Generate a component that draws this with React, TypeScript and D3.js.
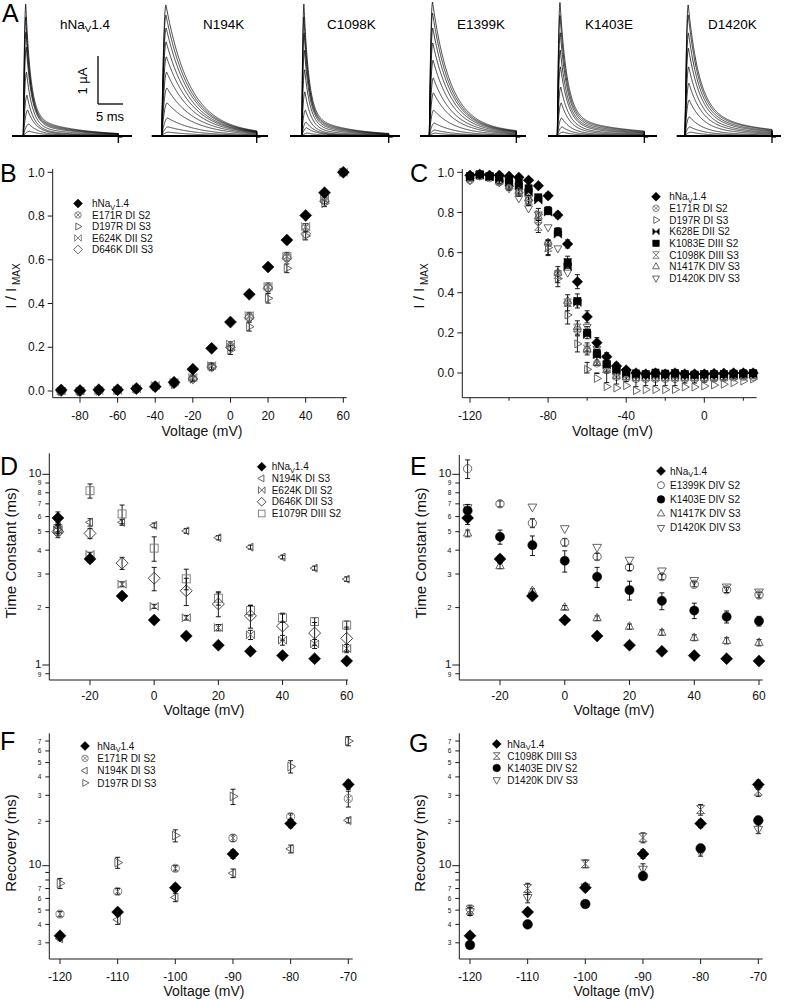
import React from 'react';
import * as d3 from 'd3';

const FONT = '"Liberation Sans", Arial, Helvetica, sans-serif';
const AX = '#1a1a1a';

// ---------------- Panel A: current traces (peak µA, decay tau ms, time-to-peak ms) ----------------
const traceNames = ['hNaV1.4', 'N194K', 'C1098K', 'E1399K', 'K1403E', 'D1420K'];
const pulseMs = [19, 19, 17.4, 17.4, 17.4, 17.4];
const slowFrac = [0.15, 0.1, 0.16, 0.1, 0.15, 0.2];
const slowTau = [9, 12, 8, 15, 12, 12];
const peakWT = [2.75, 2.48, 2.17, 1.85, 1.33, 0.85, 0.54, 0.25, 0.1];
const decayWT = [1.0, 1.0, 1.05, 1.1, 1.2, 1.35, 1.6, 2.0, 2.5];
const riseWT = [0.5, 0.5, 0.55, 0.6, 0.65, 0.75, 0.9, 1.1, 1.3];
const peakN194K = [2.73, 2.52, 2.25, 1.96, 1.65, 1.33, 1.0, 0.69, 0.375, 0.19, 0.08];
const decayN194K = [4.6, 4.6, 4.7, 4.8, 5.0, 5.2, 5.4, 5.6, 5.8, 6.0, 6.0];
const riseN194K = [0.85, 0.85, 0.9, 0.9, 0.95, 1.0, 1.05, 1.1, 1.2, 1.3, 1.4];
const peakC1098K = [2.75, 2.48, 2.15, 1.79, 1.38, 0.92, 0.54, 0.29, 0.17, 0.06];
const decayC1098K = [1.0, 1.0, 1.05, 1.1, 1.15, 1.25, 1.4, 1.7, 2.0, 2.5];
const riseC1098K = [0.45, 0.45, 0.5, 0.55, 0.6, 0.65, 0.75, 0.9, 1.0, 1.2];
const peakE1399K = [2.79, 2.56, 2.25, 1.94, 1.58, 1.21, 0.9, 0.54, 0.27, 0.125, 0.06];
const decayE1399K = [3.5, 3.5, 3.6, 3.7, 3.8, 3.9, 4.0, 4.2, 4.4, 4.5, 4.5];
const riseE1399K = [0.65, 0.65, 0.7, 0.7, 0.75, 0.8, 0.85, 0.9, 1.0, 1.1, 1.2];
const peakK1403E = [2.79, 2.52, 2.15, 1.79, 1.44, 1.02, 0.69, 0.375, 0.19, 0.08];
const decayK1403E = [1.4, 1.4, 1.45, 1.5, 1.6, 1.7, 1.8, 2.0, 2.2, 2.4];
const riseK1403E = [0.55, 0.55, 0.6, 0.6, 0.65, 0.7, 0.8, 0.9, 1.0, 1.2];
const peakD1420K = [2.73, 2.52, 2.15, 1.83, 1.44, 1.1, 0.75, 0.4, 0.19, 0.08];
const decayD1420K = [2.2, 2.2, 2.3, 2.4, 2.5, 2.6, 2.7, 2.8, 3.0, 3.0];
const riseD1420K = [0.65, 0.65, 0.7, 0.7, 0.75, 0.8, 0.85, 0.9, 1.0, 1.2];

// ---------------- Panel B: activation ----------------
const vB = [-90, -80, -70, -60, -50, -40, -30, -20, -10, 0, 10, 20, 30, 40, 50, 60];
const bWT = [0.005, 0.002, 0.006, 0.006, 0.012, 0.02, 0.04, 0.1, 0.195, 0.315, 0.442, 0.567, 0.69, 0.803, 0.907, 1.0];
const bE171R = [0, 0, 0.002, 0.004, 0.01, 0.025, 0.036, 0.058, 0.113, 0.205, 0.34, 0.474, 0.614, 0.748, 0.873, 1.0];
const bD197R = [-0.002, -0.003, 0, 0.002, 0.008, 0.02, 0.03, 0.055, 0.11, 0.187, 0.294, 0.424, 0.561, 0.709, 0.858, 1.0];
const bE624K = [0, 0, 0.002, 0.003, 0.01, 0.025, 0.04, 0.062, 0.116, 0.215, 0.345, 0.478, 0.617, 0.752, 0.878, 1.0];
const bD646K = [-0.003, -0.002, 0, 0.002, 0.008, 0.022, 0.033, 0.055, 0.11, 0.2, 0.335, 0.47, 0.607, 0.718, 0.868, 1.0];
const bErrE171R = [0.004, 0.004, 0.004, 0.004, 0.005, 0.008, 0.01, 0.012, 0.015, 0.02, 0.02, 0.02, 0.02, 0.018, 0.015, 0];
const bErrD197R = [0.004, 0.004, 0.004, 0.004, 0.005, 0.008, 0.01, 0.012, 0.015, 0.02, 0.02, 0.022, 0.02, 0.018, 0.015, 0];

// ---------------- Panel C: steady-state inactivation ----------------
const vC = [-120, -115, -110, -105, -100, -95, -90, -85, -80, -75, -70, -65, -60, -55, -50, -45, -40, -35, -30, -25, -20, -15, -10, -5, 0, 5, 10, 15, 20, 25];
const cWT = [0.985, 0.99, 0.985, 0.985, 0.98, 0.975, 0.96, 0.933, 0.883, 0.787, 0.643, 0.455, 0.28, 0.151, 0.081, 0.035, 0.015, 0.0, -0.005, 0.0, -0.005, 0.0, -0.005, -0.005, -0.005, -0.003, -0.002, 0.0, 0.0, 0.0];
const cK1083E = [0.98, 0.99, 0.98, 0.975, 0.96, 0.945, 0.92, 0.875, 0.809, 0.704, 0.552, 0.359, 0.201, 0.098, 0.045, 0.02, 0.005, -0.002, -0.005, 0.002, -0.003, 0.0, -0.005, -0.008, -0.005, -0.005, -0.004, -0.003, -0.002, 0.0];
const cK628E = [0.975, 0.985, 0.975, 0.965, 0.95, 0.93, 0.9, 0.86, 0.8, 0.69, 0.53, 0.35, 0.19, 0.09, 0.04, 0.01, -0.005, -0.01, -0.012, -0.01, -0.012, -0.01, -0.012, -0.012, -0.012, -0.01, -0.01, -0.008, -0.006, -0.005];
const cE171R = [0.96, 0.98, 0.97, 0.95, 0.93, 0.9, 0.86, 0.756, 0.646, 0.497, 0.347, 0.214, 0.115, 0.047, 0.015, -0.02, -0.025, -0.03, -0.03, -0.03, -0.03, -0.03, -0.03, -0.03, -0.03, -0.028, -0.025, -0.022, -0.02, -0.02];
const cD197R = [0.97, 0.985, 0.975, 0.955, 0.93, 0.9, 0.86, 0.79, 0.625, 0.47, 0.289, 0.145, 0.018, -0.027, -0.068, -0.075, -0.063, -0.088, -0.083, -0.083, -0.083, -0.083, -0.07, -0.07, -0.065, -0.06, -0.056, -0.048, -0.04, -0.03];
const cC1098K = [0.975, 0.985, 0.98, 0.96, 0.935, 0.905, 0.86, 0.73, 0.625, 0.49, 0.35, 0.225, 0.12, 0.06, 0.02, -0.01, -0.015, -0.02, -0.02, -0.02, -0.02, -0.02, -0.02, -0.02, -0.02, -0.02, -0.02, -0.015, -0.012, -0.01];
const cN1417K = [0.97, 0.985, 0.975, 0.955, 0.93, 0.905, 0.87, 0.78, 0.65, 0.5, 0.36, 0.23, 0.12, 0.05, 0.015, -0.015, -0.02, -0.025, -0.025, -0.025, -0.025, -0.025, -0.025, -0.025, -0.025, -0.022, -0.02, -0.018, -0.015, -0.012];
const cD1420K = [0.96, 0.99, 0.98, 0.95, 0.92, 0.87, 0.82, 0.79, 0.726, 0.621, 0.5, 0.35, 0.23, 0.12, 0.075, 0.025, 0.0, -0.01, -0.01, -0.01, -0.01, -0.01, -0.01, -0.01, -0.01, -0.01, -0.01, -0.01, -0.01, -0.005];
const cErrWT = [0.01, 0.01, 0.01, 0.01, 0.01, 0.01, 0.01, 0.01, 0.015, 0.015, 0.02, 0.035, 0.03, 0.025, 0.02, 0.015, 0.01, 0.01, 0.01, 0.01, 0.01, 0.01, 0.01, 0.01, 0.01, 0.01, 0.01, 0.01, 0.01, 0.01];
const cErrD197R = [0.01, 0.01, 0.01, 0.015, 0.02, 0.02, 0.02, 0.03, 0.04, 0.04, 0.045, 0.04, 0.035, 0.025, 0.02, 0.02, 0.02, 0.02, 0.02, 0.02, 0.02, 0.02, 0.02, 0.02, 0.02, 0.02, 0.02, 0.02, 0.015, 0.015];
const cErrK1083E = [0.01, 0.01, 0.01, 0.01, 0.01, 0.01, 0.015, 0.015, 0.02, 0.02, 0.03, 0.035, 0.03, 0.02, 0.015, 0.01, 0.01, 0.01, 0.01, 0.01, 0.01, 0.01, 0.01, 0.01, 0.01, 0.01, 0.01, 0.01, 0.01, 0.01];
const cErrC1098K = [0.01, 0.01, 0.01, 0.015, 0.02, 0.02, 0.025, 0.03, 0.035, 0.04, 0.04, 0.035, 0.03, 0.02, 0.015, 0.015, 0.015, 0.015, 0.015, 0.015, 0.015, 0.015, 0.015, 0.015, 0.015, 0.015, 0.015, 0.015, 0.015, 0.015];

// ---------------- Panels D / E: inactivation time constants (ms) ----------------
const vTau = [-30, -20, -10, 0, 10, 20, 30, 40, 50, 60];
const tauWT = [5.9, 3.6, 2.3, 1.72, 1.42, 1.27, 1.18, 1.12, 1.08, 1.05];
const tauErrWT = [0.45, 0.15, 0.08, 0.04, 0.03, 0.02, 0.02, 0.02, 0.02, 0.02];
const tauN194K = [5.3, 5.6, 5.6, 5.4, 5.05, 4.65, 4.15, 3.68, 3.22, 2.82];
const tauErrN194K = [0.3, 0.25, 0.2, 0.15, 0.15, 0.12, 0.1, 0.08, 0.08, 0.08];
const tauE624K = [5.1, 3.8, 2.65, 2.03, 1.77, 1.57, 1.44, 1.35, 1.29, 1.22];
const tauErrE624K = [0.3, 0.1, 0.08, 0.05, 0.05, 0.06, 0.08, 0.08, 0.07, 0.06];
const tauD646K = [5.0, 4.9, 3.42, 2.85, 2.45, 2.09, 1.81, 1.6, 1.47, 1.38];
const tauErrD646K = [0.35, 0.3, 0.25, 0.4, 0.4, 0.3, 0.25, 0.25, 0.2, 0.2];
const tauE1079R = [5.2, 8.2, 6.2, 4.1, 2.83, 2.24, 1.93, 1.77, 1.69, 1.62];
const tauErrE1079R = [0.3, 0.7, 0.7, 0.6, 0.35, 0.18, 0.12, 0.1, 0.08, 0.08];
const tauE1399K = [10.7, 7.0, 5.55, 4.4, 3.7, 3.25, 2.9, 2.65, 2.48, 2.33];
const tauErrE1399K = [1.2, 0.25, 0.3, 0.2, 0.15, 0.12, 0.1, 0.08, 0.08, 0.08];
const tauK1403E = [6.45, 4.7, 4.25, 3.52, 2.9, 2.47, 2.17, 1.93, 1.79, 1.7];
const tauErrK1403E = [0.5, 0.4, 0.5, 0.45, 0.35, 0.28, 0.22, 0.18, 0.13, 0.1];
const tauN1417K = [4.9, 3.3, 2.45, 2.0, 1.76, 1.59, 1.48, 1.39, 1.34, 1.31];
const tauErrN1417K = [0.2, 0.1, 0.06, 0.05, 0.05, 0.05, 0.05, 0.05, 0.05, 0.05];
const tauD1420K = [6.7, null, 6.75, 5.2, 4.15, 3.55, 3.12, 2.78, 2.57, 2.42];
const tauTicks = [0.9, 1, 2, 3, 4, 5, 6, 7, 8, 9, 10];
const tauTickLabels = ['9', '1', '2', '3', '4', '5', '6', '7', '8', '9', '10'];

// ---------------- Panels F / G: recovery from inactivation (ms) ----------------
const vRec = [-120, -110, -100, -90, -80, -70];
const recWT = [3.35, 4.85, 7.1, 12.0, 19.3, 35.5];
const recErrWT = [0.15, 0.25, 0.4, 0.8, 1.2, 2.5];
const recE171R = [4.7, 6.7, 9.6, 15.4, 21.5, 28.5];
const recErrE171R = [0.2, 0.3, 0.4, 0.8, 1.0, 3.5];
const recN194K = [3.2, 4.3, 6.1, 8.9, 13.0, 20.3];
const recErrN194K = [0.1, 0.3, 0.4, 0.6, 0.8, 0.8];
const recD197R = [7.6, 10.5, 16.0, 29.5, 47.0, 70.0];
const recErrD197R = [0.6, 0.9, 1.5, 3.5, 4.5, 5.0];
const recC1098K = [5.0, 7.0, 10.3, 15.5, 24.0, 32.0];
const recErrC1098K = [0.4, 0.6, 0.6, 1.2, 2.0, 2.5];
const recK1403E = [2.9, 4.0, 5.5, 8.5, 13.1, 20.3];
const recErrK1403E = [0.1, 0.15, 0.2, 0.3, 0.5, 0.7];
const recD1420K = [4.9, 6.1, 7.2, 9.5, 12.4, 17.7];
const recErrD1420K = [0.3, 0.5, 0.4, 0.8, 0.8, 1.2];
const recTicks = [3, 4, 5, 6, 7, 8, 9, 10, 20, 30, 40, 50, 60, 70];
const recTickLabels = ['3', '4', '5', '6', '7', '', '', '10', '2', '3', '4', '5', '6', '7'];

const ivTicks = [0, 0.2, 0.4, 0.6, 0.8, 1.0];

type Kind = 'diamondF' | 'diamond' | 'circle' | 'circleF' | 'circleX' | 'triUp' | 'triDown' | 'triLeft' | 'triRight' | 'square' | 'squareF' | 'bowtie' | 'bowtieF' | 'hourglass';

function marker(kind: Kind, x: number, y: number, r: number, color: string, key: string) {
  const sw = 0.9;
  const open = { fill: 'none', stroke: color, strokeWidth: sw };
  const filled = { fill: color, stroke: color, strokeWidth: 0.5 };
  const t = r * 1.2;
  switch (kind) {
    case 'diamondF':
      return <path key={key} d={`M${x},${y - r}L${x + r},${y}L${x},${y + r}L${x - r},${y}Z`} {...filled} />;
    case 'diamond':
      return <path key={key} d={`M${x},${y - r * 1.15}L${x + r * 1.15},${y}L${x},${y + r * 1.15}L${x - r * 1.15},${y}Z`} {...open} />;
    case 'circle':
      return <circle key={key} cx={x} cy={y} r={r * 0.92} {...open} />;
    case 'circleF':
      return <circle key={key} cx={x} cy={y} r={r} {...filled} />;
    case 'circleX': {
      const q = r * 0.62;
      return (
        <g key={key} {...open}>
          <circle cx={x} cy={y} r={r * 0.9} />
          <path d={`M${x - q},${y - q}L${x + q},${y + q}M${x - q},${y + q}L${x + q},${y - q}`} />
        </g>
      );
    }
    case 'triUp':
      return <path key={key} d={`M${x},${y - t}L${x + t * 0.87},${y + t * 0.55}L${x - t * 0.87},${y + t * 0.55}Z`} {...open} />;
    case 'triDown':
      return <path key={key} d={`M${x},${y + t}L${x + t * 0.87},${y - t * 0.55}L${x - t * 0.87},${y - t * 0.55}Z`} {...open} />;
    case 'triLeft':
      return <path key={key} d={`M${x - t},${y}L${x + t * 0.55},${y - t * 0.87}L${x + t * 0.55},${y + t * 0.87}Z`} {...open} />;
    case 'triRight':
      return <path key={key} d={`M${x + t},${y}L${x - t * 0.55},${y - t * 0.87}L${x - t * 0.55},${y + t * 0.87}Z`} {...open} />;
    case 'square':
      return <rect key={key} x={x - r * 0.95} y={y - r * 0.95} width={r * 1.9} height={r * 1.9} {...open} />;
    case 'squareF':
      return <rect key={key} x={x - r * 0.9} y={y - r * 0.9} width={r * 1.8} height={r * 1.8} {...filled} />;
    case 'bowtie':
      return <path key={key} d={`M${x - r},${y - r}L${x + r},${y + r}L${x + r},${y - r}L${x - r},${y + r}Z`} {...open} />;
    case 'bowtieF':
      return <path key={key} d={`M${x - r},${y - r}L${x + r},${y + r}L${x + r},${y - r}L${x - r},${y + r}Z`} {...filled} />;
    case 'hourglass':
      return <path key={key} d={`M${x - r},${y - r}L${x + r},${y - r}L${x - r},${y + r}L${x + r},${y + r}Z`} {...open} />;
  }
  return null;
}

type Scale = (v: number) => number;

function series(id: string, xs: number[], ys: (number | null)[], errs: number[] | null, xS: Scale, yS: Scale, kind: Kind, r: number, color: string) {
  return (
    <g key={id}>
      {errs &&
        xs.map((v, i) => {
          const y = ys[i];
          if (y == null || !errs[i]) return null;
          const cx = xS(v);
          const y1 = yS(y + errs[i]);
          const y2 = yS(Math.max(y - errs[i], 1e-6));
          return (
            <g key={`e${i}`} stroke="#000" strokeWidth={0.9}>
              <line x1={cx} x2={cx} y1={y1} y2={y2} />
              <line x1={cx - 2.5} x2={cx + 2.5} y1={y1} y2={y1} />
              <line x1={cx - 2.5} x2={cx + 2.5} y1={y2} y2={y2} />
            </g>
          );
        })}
      {xs.map((v, i) => {
        const y = ys[i];
        if (y == null) return null;
        return marker(kind, xS(v), yS(y), r, color, `m${i}`);
      })}
    </g>
  );
}

function labelWithSub(text: string, sub = 0.72) {
  if (text.startsWith('hNaV')) {
    return [
      <tspan key="a">hNa</tspan>,
      <tspan key="b" dy={2.5} fontSize={`${sub}em`}>V</tspan>,
      <tspan key="c" dy={-2.5}>{text.slice(4)}</tspan>,
    ];
  }
  return text;
}

type LegItem = { label: string; kind: Kind; color: string; r: number };

function legend(id: string, items: LegItem[], symX: number, textX: number, y0: number, dy: number) {
  return (
    <g key={id}>
      {items.map((it, i) => {
        const y = y0 + i * dy;
        return (
          <g key={i}>
            {marker(it.kind, symX, y, it.r, it.color, 's')}
            <text x={textX} y={y + 3.6} fontSize={10} fill="#111">
              {labelWithSub(it.label)}
            </text>
          </g>
        );
      })}
    </g>
  );
}

function xAxis(id: string, xS: Scale, y: number, x0: number, x1: number, ticks: number[], minor: number[], labelY: number) {
  return (
    <g key={id}>
      <line x1={x0} x2={x1} y1={y} y2={y} stroke={AX} strokeWidth={1} />
      {ticks.map((t) => (
        <g key={t}>
          <line x1={xS(t)} x2={xS(t)} y1={y} y2={y + 5} stroke={AX} />
          <text x={xS(t)} y={labelY} fontSize={12} textAnchor="middle" fill="#111">
            {String(t)}
          </text>
        </g>
      ))}
      {minor.map((t) => (
        <line key={`n${t}`} x1={xS(t)} x2={xS(t)} y1={y} y2={y + 3} stroke={AX} />
      ))}
    </g>
  );
}

function yAxisLinear(id: string, yS: Scale, x: number, top: number, bottom: number, ticks: number[]) {
  const f = d3.format('.1f');
  return (
    <g key={id}>
      <line x1={x} x2={x} y1={top} y2={bottom} stroke={AX} />
      {ticks.map((t) => (
        <g key={t}>
          <line x1={x - 5} x2={x} y1={yS(t)} y2={yS(t)} stroke={AX} />
          <text x={x - 8} y={yS(t) + 4.2} fontSize={12} textAnchor="end" fill="#111">
            {f(t)}
          </text>
        </g>
      ))}
    </g>
  );
}

function yAxisLog(id: string, yS: Scale, x: number, top: number, bottom: number, ticks: number[], labels: string[], midSize: number[]) {
  return (
    <g key={id}>
      <line x1={x} x2={x} y1={top} y2={bottom} stroke={AX} />
      {ticks.map((t, i) => {
        const lab = labels[i];
        const major = lab.length === 2 || t === 1;
        const fs = major ? 11.5 : midSize.includes(t) ? 7.5 : 6.5;
        const dyLab = major ? 2.5 : fs * 0.38;
        const extra = !major && t < 1 ? 0.6 : 0;
        return (
          <g key={t}>
            <line x1={x - (major ? 7 : 4)} x2={x} y1={yS(t)} y2={yS(t)} stroke={AX} />
            {lab && (
              <text x={x - 8} y={yS(t) + dyLab + extra} fontSize={fs} textAnchor="end" fill="#111">
                {lab}
              </text>
            )}
          </g>
        );
      })}
    </g>
  );
}

function yTitle(x: number, y: number, text: string) {
  return (
    <text transform={`translate(${x},${y}) rotate(-90)`} fontSize={15} textAnchor="middle" fill="#111">
      {text}
    </text>
  );
}

function imaxTitle(x: number, y: number) {
  return (
    <text transform={`translate(${x},${y}) rotate(-90)`} fontSize={15} textAnchor="middle" fill="#111">
      I / I<tspan dy={4} fontSize={10}> MAX</tspan>
    </text>
  );
}

function xTitle(x: number, y: number) {
  return (
    <text x={x} y={y} fontSize={14} textAnchor="middle" fill="#111">
      Voltage (mV)
    </text>
  );
}

function panelLetter(x: number, y: number, t: string) {
  return (
    <text x={x} y={y} fontSize={25} fill="#000">
      {t}
    </text>
  );
}

// ---------------- Panel A rendering ----------------
const traceSets = [
  { peaks: peakWT, decay: decayWT, rise: riseWT },
  { peaks: peakN194K, decay: decayN194K, rise: riseN194K },
  { peaks: peakC1098K, decay: decayC1098K, rise: riseC1098K },
  { peaks: peakE1399K, decay: decayE1399K, rise: riseE1399K },
  { peaks: peakK1403E, decay: decayK1403E, rise: riseK1403E },
  { peaks: peakD1420K, decay: decayD1420K, rise: riseD1420K },
];
const aLayout = [
  { onset: 23.3, base0: 12, base1: 132, labelX: 60 },
  { onset: 161.7, base0: 151.7, base1: 268, labelX: 203 },
  { onset: 301.7, base0: 290, base1: 400, labelX: 327 },
  { onset: 429.3, base0: 420, base1: 526, labelX: 457 },
  { onset: 557.3, base0: 548, base1: 657, labelX: 585 },
  { onset: 685, base0: 676.7, base1: 781, labelX: 708 },
];
const MS_PX = 5;
const BASE_Y = 136;
const UA_PX = 48;

function PanelA() {
  const yA = d3.scaleLinear().domain([0, 1]).range([BASE_Y, BASE_Y - UA_PX]);
  return (
    <g>
      {traceSets.map((set, p) => {
        const L = aLayout[p];
        const dur = pulseMs[p];
        const xA = d3.scaleLinear().domain([0, dur]).range([L.onset, L.onset + dur * MS_PX]);
        const ts = d3.range(0, dur + 1e-6, 0.04);
        const line = d3
          .line<[number, number]>()
          .x((d) => xA(d[0]))
          .y((d) => yA(d[1]));
        const s = slowFrac[p];
        const ts2 = slowTau[p];
        return (
          <g key={p}>
            <line x1={L.base0} x2={L.base1} y1={BASE_Y} y2={BASE_Y} stroke="#000" strokeWidth={2} />
            {set.peaks.map((A, k) => {
              const tau = set.decay[k];
              const tp = set.rise[k];
              const pts: [number, number][] = ts.map((t) => {
                let v: number;
                if (t < tp) {
                  const u = t / tp;
                  v = A * (1 - (1 - u) * (1 - u));
                } else {
                  const q = t - tp;
                  v = A * ((1 - s) * Math.exp(-q / tau) + s * Math.exp(-q / ts2));
                }
                return [t, v];
              });
              pts.push([dur, 0]);
              return <path key={k} d={line(pts) || ''} fill="none" stroke="#000" strokeWidth={0.75} />;
            })}
            <line x1={xA(dur)} x2={xA(dur)} y1={BASE_Y} y2={BASE_Y + 7} stroke="#000" strokeWidth={1.3} />
            <line x1={xA(dur)} x2={xA(dur) + 4} y1={BASE_Y + 1} y2={BASE_Y + 1} stroke="#000" strokeWidth={1.2} />
            <text x={L.labelX} y={29} fontSize={13.5} fill="#000">
              {labelWithSub(traceNames[p])}
            </text>
          </g>
        );
      })}
      {/* scale bar: 1 µA, 5 ms */}
      <line x1={98} x2={98} y1={104} y2={104 - UA_PX} stroke="#000" strokeWidth={1.3} />
      <line x1={98} x2={98 + 5 * MS_PX} y1={104} y2={104} stroke="#000" strokeWidth={1.3} />
      <text transform="translate(87,81) rotate(-90)" fontSize={13} textAnchor="middle">
        1 µA
      </text>
      <text x={110} y={121} fontSize={13} textAnchor="middle">
        5 ms
      </text>
    </g>
  );
}

export default function App() {
  // B
  const xB = d3.scaleLinear().domain([-80, 60]).range([80, 343.3]);
  const yB = d3.scaleLinear().domain([0, 1]).range([391, 172.3]);
  // C
  const xC = d3.scaleLinear().domain([-120, 0]).range([470, 704.3]);
  const yC = d3.scaleLinear().domain([0, 1]).range([373, 172.3]);
  // D / E
  const xD = d3.scaleLinear().domain([-20, 60]).range([90, 346.7]);
  const xE = d3.scaleLinear().domain([-20, 60]).range([500, 759]);
  const yT = d3.scaleLog().domain([1, 10]).range([665, 474.3]);
  // F / G
  const xF = d3.scaleLinear().domain([-120, -70]).range([60, 348.3]);
  const xG = d3.scaleLinear().domain([-120, -70]).range([470, 758.3]);
  const yR = d3.scaleLog().domain([10, 100]).range([865.7, 718.2]);

  const G1 = '#777';
  const G2 = '#555';
  const G3 = '#333';

  return (
    <svg
      width={785}
      height={1000}
      viewBox="0 0 785 1000"
      style={{ position: 'absolute', left: 0, top: 0, display: 'block', background: '#fff' }}
      fontFamily={FONT}
    >
      <rect x={0} y={0} width={785} height={1000} fill="#fff" />
      {panelLetter(2, 22, 'A')}
      <PanelA />

      {/* ---------- B ---------- */}
      {panelLetter(0, 182, 'B')}
      {yAxisLinear('byax', yB, 52.7, 169, 397.7, ivTicks)}
      {xAxis('bxax', xB, 397.7, 52.7, 346.7, [-80, -60, -40, -20, 0, 20, 40, 60], [], 420)}
      {imaxTitle(15.5, 286)}
      {xTitle(202, 436)}
      {series('bE171R', vB, bE171R, bErrE171R, xB, yB, 'circleX', 4.3, G1)}
      {series('bD197R', vB, bD197R, bErrD197R, xB, yB, 'triRight', 4, G2)}
      {series('bE624K', vB, bE624K, null, xB, yB, 'bowtie', 4, G1)}
      {series('bD646K', vB, bD646K, null, xB, yB, 'diamond', 4.3, G2)}
      {series('bWT', vB, bWT, null, xB, yB, 'diamondF', 6, '#000')}
      {legend(
        'bleg',
        [
          { label: 'hNaV1.4', kind: 'diamondF', color: '#000', r: 4.5 },
          { label: 'E171R DI S2', kind: 'circleX', color: G1, r: 3.6 },
          { label: 'D197R DI S3', kind: 'triRight', color: G2, r: 3.3 },
          { label: 'E624K DII S2', kind: 'bowtie', color: G1, r: 3.3 },
          { label: 'D646K DII S3', kind: 'diamond', color: G2, r: 3.8 },
        ],
        78,
        92,
        203.5,
        11.5
      )}

      {/* ---------- C ---------- */}
      {panelLetter(410, 182, 'C')}
      {yAxisLinear('cyax', yC, 462.3, 169, 397.7, ivTicks)}
      {xAxis('cxax', xC, 397.7, 462.3, 756.7, [-120, -80, -40, 0], [-100, -60, -20, 20], 420)}
      {imaxTitle(424, 286)}
      {xTitle(612.5, 436)}
      {series('cE171R', vC, cE171R, null, xC, yC, 'circleX', 4, G1)}
      {series('cD197R', vC, cD197R, cErrD197R, xC, yC, 'triRight', 3.8, G2)}
      {series('cN1417K', vC, cN1417K, null, xC, yC, 'triUp', 3.8, G2)}
      {series('cD1420K', vC, cD1420K, null, xC, yC, 'triDown', 3.8, G2)}
      {series('cC1098K', vC, cC1098K, cErrC1098K, xC, yC, 'hourglass', 3.8, G1)}
      {series('cK628E', vC, cK628E, null, xC, yC, 'bowtieF', 3.8, '#000')}
      {series('cK1083E', vC, cK1083E, cErrK1083E, xC, yC, 'squareF', 4, '#000')}
      {series('cWT', vC, cWT, cErrWT, xC, yC, 'diamondF', 5.3, '#000')}
      {legend(
        'cleg',
        [
          { label: 'hNaV1.4', kind: 'diamondF', color: '#000', r: 4.5 },
          { label: 'E171R DI S2', kind: 'circleX', color: G1, r: 3.6 },
          { label: 'D197R DI S3', kind: 'triRight', color: G2, r: 3.3 },
          { label: 'K628E DII S2', kind: 'bowtieF', color: '#000', r: 3.2 },
          { label: 'K1083E DIII S2', kind: 'squareF', color: '#000', r: 3.6 },
          { label: 'C1098K DIII S3', kind: 'hourglass', color: G1, r: 3.3 },
          { label: 'N1417K DIV S3', kind: 'triUp', color: G2, r: 3.3 },
          { label: 'D1420K DIV S3', kind: 'triDown', color: G2, r: 3.3 },
        ],
        656,
        669.3,
        196.7,
        11.65
      )}

      {/* ---------- D ---------- */}
      {panelLetter(0, 475, 'D')}
      {yAxisLog('dyax', yT, 49.3, 453.3, 680, tauTicks, tauTickLabels, [2, 3, 4])}
      {xAxis('dxax', xD, 680, 49.3, 348, [-20, 0, 20, 40, 60], [], 700)}
      {yTitle(16, 553, 'Time Constant (ms)')}
      {xTitle(204, 715)}
      {series('dE1079R', vTau, tauE1079R, tauErrE1079R, xD, yT, 'square', 4.2, G1)}
      {series('dN194K', vTau, tauN194K, tauErrN194K, xD, yT, 'triLeft', 3.8, G2)}
      {series('dE624K', vTau, tauE624K, tauErrE624K, xD, yT, 'bowtie', 4, G2)}
      {series('dD646K', vTau, tauD646K, tauErrD646K, xD, yT, 'diamond', 5.2, G3)}
      {series('dWT', vTau, tauWT, tauErrWT, xD, yT, 'diamondF', 6, '#000')}
      {legend(
        'dleg',
        [
          { label: 'hNaV1.4', kind: 'diamondF', color: '#000', r: 4.5 },
          { label: 'N194K DI S3', kind: 'triLeft', color: G2, r: 3.3 },
          { label: 'E624K DII S2', kind: 'bowtie', color: G2, r: 3.3 },
          { label: 'D646K DII S3', kind: 'diamond', color: G3, r: 3.8 },
          { label: 'E1079R DIII S2', kind: 'square', color: G1, r: 3.5 },
        ],
        261.7,
        271.7,
        466.7,
        11.7
      )}

      {/* ---------- E ---------- */}
      {panelLetter(410, 475, 'E')}
      {yAxisLog('eyax', yT, 459.3, 455, 680, tauTicks, tauTickLabels, [2, 3, 4])}
      {xAxis('exax', xE, 680, 459.3, 762.7, [-20, 0, 20, 40, 60], [], 700)}
      {yTitle(426, 553, 'Time Constant (ms)')}
      {xTitle(614, 715)}
      {series('eD1420K', vTau, tauD1420K, null, xE, yT, 'triDown', 4.2, G2)}
      {series('eE1399K', vTau, tauE1399K, tauErrE1399K, xE, yT, 'circle', 4.5, G2)}
      {series('eN1417K', vTau, tauN1417K, tauErrN1417K, xE, yT, 'triUp', 4, G2)}
      {series('eK1403E', vTau, tauK1403E, tauErrK1403E, xE, yT, 'circleF', 4.6, '#000')}
      {series('eWT', vTau, tauWT, tauErrWT, xE, yT, 'diamondF', 6, '#000')}
      {legend(
        'eleg',
        [
          { label: 'hNaV1.4', kind: 'diamondF', color: '#000', r: 4.5 },
          { label: 'E1399K DIV S2', kind: 'circle', color: G2, r: 3.8 },
          { label: 'K1403E DIV S2', kind: 'circleF', color: '#000', r: 3.8 },
          { label: 'N1417K DIV S3', kind: 'triUp', color: G2, r: 3.5 },
          { label: 'D1420K DIV S3', kind: 'triDown', color: G2, r: 3.5 },
        ],
        661,
        670,
        471,
        14.2
      )}

      {/* ---------- F ---------- */}
      {panelLetter(0, 750, 'F')}
      {yAxisLog('fyax', yR, 49.3, 733.3, 959, recTicks, recTickLabels, [])}
      {xAxis('fxax', xF, 959, 49.3, 352.7, [-120, -110, -100, -90, -80, -70], [], 981)}
      {yTitle(15.5, 843, 'Recovery (ms)')}
      {xTitle(204, 996)}
      {series('fD197R', vRec, recD197R, recErrD197R, xF, yR, 'triRight', 4.2, G2)}
      {series('fE171R', vRec, recE171R, recErrE171R, xF, yR, 'circleX', 4.5, G1)}
      {series('fN194K', vRec, recN194K, recErrN194K, xF, yR, 'triLeft', 4, G2)}
      {series('fWT', vRec, recWT, recErrWT, xF, yR, 'diamondF', 6, '#000')}
      {legend(
        'fleg',
        [
          { label: 'hNaV1.4', kind: 'diamondF', color: '#000', r: 4.5 },
          { label: 'E171R DI S2', kind: 'circleX', color: G1, r: 3.6 },
          { label: 'N194K DI S3', kind: 'triLeft', color: G2, r: 3.3 },
          { label: 'D197R DI S3', kind: 'triRight', color: G2, r: 3.3 },
        ],
        85,
        97.3,
        746,
        12.3
      )}

      {/* ---------- G ---------- */}
      {panelLetter(409, 752, 'G')}
      {yAxisLog('gyax', yR, 459.3, 733.3, 959, recTicks, recTickLabels, [])}
      {xAxis('gxax', xG, 959, 459.3, 762.7, [-120, -110, -100, -90, -80, -70], [], 981)}
      {yTitle(425, 843, 'Recovery (ms)')}
      {xTitle(614, 996)}
      {series('gD1420K', vRec, recD1420K, recErrD1420K, xG, yR, 'triDown', 4.2, G2)}
      {series('gC1098K', vRec, recC1098K, recErrC1098K, xG, yR, 'hourglass', 4, G2)}
      {series('gK1403E', vRec, recK1403E, recErrK1403E, xG, yR, 'circleF', 4.8, '#000')}
      {series('gWT', vRec, recWT, recErrWT, xG, yR, 'diamondF', 6, '#000')}
      {legend(
        'gleg',
        [
          { label: 'hNaV1.4', kind: 'diamondF', color: '#000', r: 4.5 },
          { label: 'C1098K DIII S3', kind: 'hourglass', color: G2, r: 3.3 },
          { label: 'K1403E DIV S2', kind: 'circleF', color: '#000', r: 3.8 },
          { label: 'D1420K DIV S3', kind: 'triDown', color: G2, r: 3.5 },
        ],
        496.7,
        507.3,
        744,
        12
      )}
    </svg>
  );
}
